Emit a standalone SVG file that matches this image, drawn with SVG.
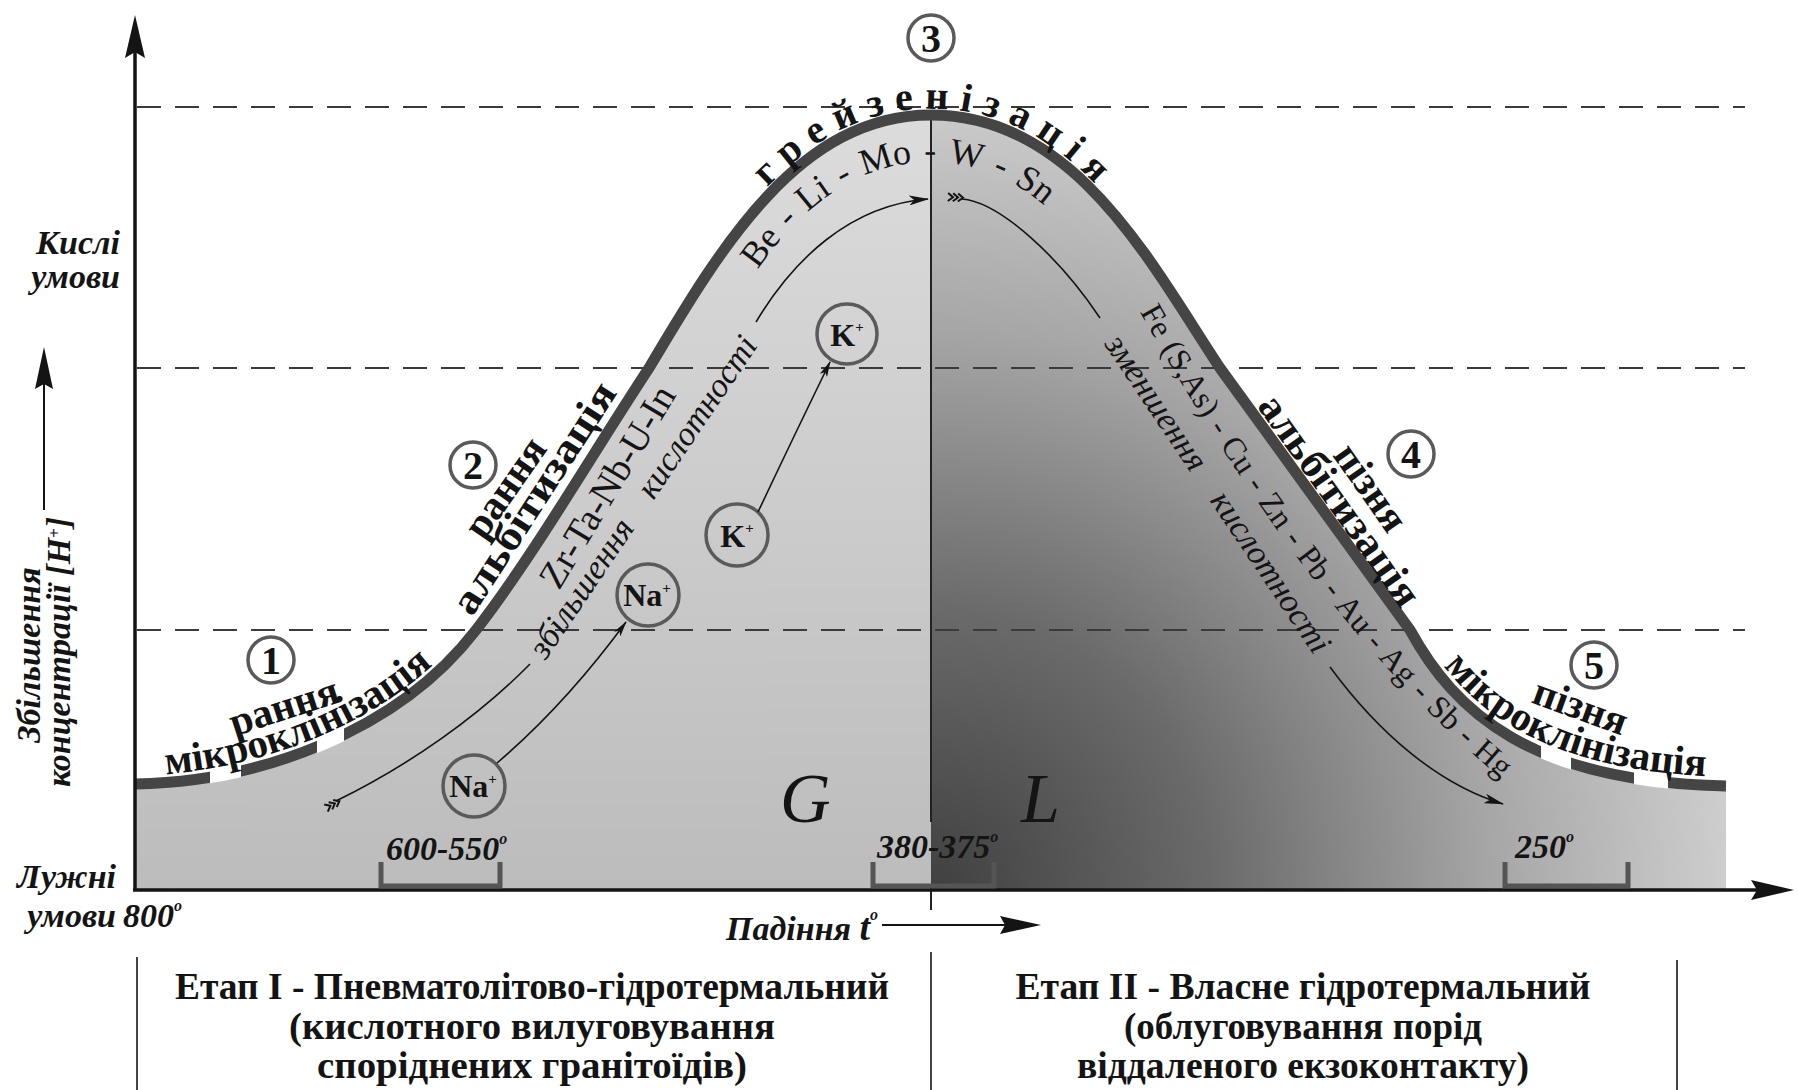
<svg xmlns="http://www.w3.org/2000/svg" width="1798" height="1090" viewBox="0 0 1798 1090">
<style>
text{font-family:"Liberation Serif","Times New Roman",serif;fill:#141414}
.b{font-weight:bold}
.i{font-style:italic}
.lab{font-weight:bold;font-size:41px}
.ax{font-weight:bold;font-style:italic;font-size:34px}
.num{font-weight:bold;font-size:40px;text-anchor:middle}
.ion{font-weight:bold;font-size:32px;text-anchor:middle}
.circ{fill:none;stroke:#5a5a5a;stroke-width:3.5}
.dash{stroke:#3a3a3a;stroke-width:2.2;stroke-dasharray:24 14;fill:none}
.thin{fill:none;stroke:#141414;stroke-width:1.6}
.brk{fill:none;stroke:#555;stroke-width:5}
.tbl{font-weight:bold;font-size:38px;text-anchor:middle}
.axis{stroke:#141414;stroke-width:3.5;fill:none}
</style>
<defs>
<path id="curve" d="M 135,784 C 255,782 396,734 476,630 C 534,555 591,456 649,368 C 722,245 800,115 931,115 C 1075,115 1150,262 1220,368 C 1283,455 1347,543 1410,630 C 1455,712 1530,782 1726,786"/>
<path id="area" d="M 135,784 C 255,782 396,734 476,630 C 534,555 591,456 649,368 C 722,245 800,115 931,115 C 1075,115 1150,262 1220,368 C 1283,455 1347,543 1410,630 C 1455,712 1530,782 1726,786 L 1726,890 L 135,890 Z"/>
<linearGradient id="gl" gradientUnits="userSpaceOnUse" x1="0" y1="115" x2="0" y2="890">
<stop offset="0" stop-color="#dcdcdc"/><stop offset="1" stop-color="#bcbcbc"/>
</linearGradient>
<radialGradient id="gr" gradientUnits="userSpaceOnUse" cx="931" cy="890" r="800">
<stop offset="0" stop-color="#404040"/><stop offset="0.35" stop-color="#6a6a6a"/><stop offset="0.7" stop-color="#a6a6a6"/><stop offset="1" stop-color="#cecece"/>
</radialGradient>
<clipPath id="cl"><rect x="0" y="0" width="931" height="1090"/></clipPath>
<clipPath id="cr"><rect x="931" y="0" width="900" height="1090"/></clipPath>
<clipPath id="gaps">
<rect x="210" y="730" width="31" height="80"/><rect x="317" y="700" width="27" height="90"/>
<rect x="1541" y="720" width="30" height="80"/><rect x="1634" y="740" width="34" height="70"/>
</clipPath>
<path id="pMikL" d="M 132,776 C 252,774 393,726 473,622"/>
<path id="pMikR" d="M 1414,621 C 1459,703 1534,773 1730,777"/>
<path id="pTop" d="M 646,362 C 719,239 797,109 928,109 L 934,109 C 1078,109 1153,256 1223,362"/>
<path id="pBe" d="M 752,278 C 800,205 860,162 931,162 C 990,162 1030,190 1062,222"/>
<path id="pFe" d="M 1140,312 C 1200,420 1290,560 1380,660 C 1420,705 1460,745 1515,790"/>
<marker id="ah" viewBox="0 0 20 10" refX="19" refY="5" markerWidth="20" markerHeight="10" markerUnits="userSpaceOnUse" orient="auto"><path d="M0,0 L20,5 L0,10 L5,5 Z" fill="#141414"/></marker>
<marker id="ahs" viewBox="0 0 16 8" refX="15" refY="4" markerWidth="16" markerHeight="8" markerUnits="userSpaceOnUse" orient="auto"><path d="M0,0 L16,4 L0,8 L4,4 Z" fill="#141414"/></marker>
<g id="fl"><path d="M0,-4 L5,0 L0,4 M5,-4 L10,0 L5,4 M10,-4 L15,0 L10,4" fill="none" stroke="#141414" stroke-width="2"/></g>
</defs>

<g id="background">
<rect width="1798" height="1090" fill="#fff"/>
<use href="#area" fill="url(#gl)" clip-path="url(#cl)"/>
<use href="#area" fill="url(#gr)" clip-path="url(#cr)"/>
</g>

<g id="grid">
<line class="dash" x1="137" y1="107" x2="1745" y2="107"/>
<line class="dash" x1="137" y1="368" x2="1745" y2="368"/>
<line class="dash" x1="137" y1="630" x2="1745" y2="630"/>
<line x1="931" y1="115" x2="931" y2="822" stroke="#222" stroke-width="2"/>
<line x1="931" y1="888" x2="931" y2="910" stroke="#222" stroke-width="2"/>
</g>

<g id="bell-curve">
<use href="#curve" fill="none" stroke="#454545" stroke-width="11"/>
<use href="#curve" fill="none" stroke="#fff" stroke-width="12" clip-path="url(#gaps)"/>
</g>

<g id="axes">
<line class="axis" x1="135" y1="890" x2="135" y2="50"/>
<polygon points="135,15 125,58 135,52 145,58" fill="#141414"/>
<line class="axis" x1="133" y1="890" x2="1760" y2="890"/>
<polygon points="1794,890 1751,880 1757,890 1751,900" fill="#141414"/>
<line x1="44" y1="510" x2="44" y2="380" stroke="#141414" stroke-width="2"/>
<polygon points="44,347 35,389 44,384 53,389" fill="#141414"/>
<line x1="882" y1="925" x2="1010" y2="925" stroke="#141414" stroke-width="2"/>
<polygon points="1041,925 1000,916 1005,925 1000,934" fill="#141414"/>
</g>

<g id="brackets">
<path class="brk" d="M 381,862 V 886 H 500 V 862"/>
<path class="brk" d="M 873,862 V 886 H 994 V 862"/>
<path class="brk" d="M 1505,862 V 886 H 1628 V 862"/>
</g>

<g id="table">
<line x1="137" y1="957" x2="137" y2="1090" stroke="#141414" stroke-width="1.6"/>
<line x1="931" y1="952" x2="931" y2="1090" stroke="#141414" stroke-width="1.6"/>
<line x1="1677" y1="960" x2="1677" y2="1090" stroke="#141414" stroke-width="1.6"/>
</g>

<g id="stage-1"><circle class="circ" cx="271" cy="660" r="23"/><text class="num" x="271" y="674">1</text></g>
<g id="stage-2"><circle class="circ" cx="473" cy="465" r="23"/><text class="num" x="473" y="479">2</text></g>
<g id="stage-3"><circle class="circ" cx="931" cy="38" r="23"/><text class="num" x="931" y="52">3</text></g>
<g id="stage-4"><circle class="circ" cx="1411" cy="454" r="23"/><text class="num" x="1411" y="468">4</text></g>
<g id="stage-5"><circle class="circ" cx="1594" cy="665" r="23"/><text class="num" x="1594" y="679">5</text></g>

<g id="ion-na1"><circle class="circ" cx="474" cy="786" r="31"/><text class="ion" x="473" y="797">Na<tspan font-size="15" dy="-13">+</tspan></text></g>
<g id="ion-na2"><circle class="circ" cx="648" cy="595" r="31"/><text class="ion" x="647" y="606">Na<tspan font-size="15" dy="-13">+</tspan></text></g>
<g id="ion-k1"><circle class="circ" cx="737" cy="535" r="31"/><text class="ion" font-size="34" x="737" y="547">K<tspan font-size="15" dy="-14">+</tspan></text></g>
<g id="ion-k2"><circle class="circ" cx="847" cy="334" r="30"/><text class="ion" font-size="34" x="847" y="346">K<tspan font-size="15" dy="-14">+</tspan></text></g>

<g id="connectors">
<path class="thin" d="M 497,763 Q 565,705 626,622" marker-end="url(#ahs)"/>
<path class="thin" d="M 758,512 Q 792,440 830,362" marker-end="url(#ahs)"/>
<path class="thin" d="M 336,801 C 410,765 480,715 530,664"/>
<path class="thin" d="M 756,322 C 793,260 850,205 928,199" marker-end="url(#ah)"/>
<use href="#fl" transform="translate(326,808) rotate(-27)"/>
<path class="thin" d="M 962,199 C 1000,202 1060,258 1100,318"/>
<path class="thin" d="M 1330,667 C 1380,735 1440,785 1503,804" marker-end="url(#ah)"/>
<use href="#fl" transform="translate(948,197) rotate(3)"/>
</g>

<g id="labels">
<text class="ax" x="120" y="254" text-anchor="end">Кислі</text>
<text class="ax" x="120" y="288" text-anchor="end">умови</text>
<text class="ax" x="116" y="888" text-anchor="end">Лужні</text>
<text class="ax" x="116" y="927" text-anchor="end">умови</text>
<text class="ax" x="123" y="927">800<tspan font-size="16" dy="-16">o</tspan></text>
<text class="ax" font-size="28" transform="translate(40,655) rotate(-90)" text-anchor="middle">Збільшення</text>
<text class="ax" font-size="28" transform="translate(70,652) rotate(-90)" text-anchor="middle">концентрації [H<tspan font-size="17" dy="-10">+</tspan><tspan dy="10">]</tspan></text>
<text class="ax" font-size="30" x="726" y="940">Падіння <tspan font-size="38">t</tspan><tspan font-size="16" dy="-20">o</tspan></text>

<text class="ax" font-size="32" x="386" y="860">600-550<tspan font-size="16" dy="-16">o</tspan></text>
<text class="ax" font-size="32" x="877" y="858">380-375<tspan font-size="16" dy="-16">o</tspan></text>
<text class="ax" font-size="32" x="1515" y="858">250<tspan font-size="16" dy="-16">o</tspan></text>

<text class="i" font-size="70" x="780" y="822">G</text>
<text class="i" font-size="70" x="1021" y="822">L</text>

<text class="lab" transform="translate(288,719) rotate(-18)" text-anchor="middle">рання</text>
<text class="lab"><textPath href="#pMikL" startOffset="34">мікроклінізація</textPath></text>
<text class="lab" transform="translate(516,495) rotate(-55)" text-anchor="middle">рання</text>
<text class="lab" transform="translate(545,505) rotate(-57)" text-anchor="middle" textLength="268" lengthAdjust="spacingAndGlyphs">альбітизація</text>
<text font-size="38" transform="translate(618,493) rotate(-59)" text-anchor="middle">Zr-Ta-Nb-U-In</text>
<text class="i" font-size="34" word-spacing="24" transform="translate(652,503) rotate(-56)" text-anchor="middle">збільшення кислотності</text>
<text class="b" font-size="40" letter-spacing="11" text-anchor="middle"><textPath href="#pTop" startOffset="405">грейзенізація</textPath></text>
<text font-size="36" word-spacing="3"><textPath href="#pBe" startOffset="10">Be - Li - Mo - W - Sn</textPath></text>
<text class="i" font-size="34" word-spacing="24" transform="translate(1209,500) rotate(56)" text-anchor="middle">зменшення кислотності</text>
<text font-size="32" word-spacing="2"><textPath href="#pFe">Fe (S,As) - Cu - Zn - Pb - Au - Ag - Sb - Hg</textPath></text>
<text class="lab" transform="translate(1360,495) rotate(55)" text-anchor="middle">пізня</text>
<text class="lab" transform="translate(1329,508) rotate(54.6)" text-anchor="middle" textLength="250" lengthAdjust="spacingAndGlyphs">альбітизація</text>
<text class="lab" transform="translate(1576,719) rotate(20)" text-anchor="middle">пізня</text>
<text class="lab"><textPath href="#pMikR" startOffset="54">мікроклінізація</textPath></text>

<text class="tbl" x="532" y="999" textLength="714" lengthAdjust="spacingAndGlyphs">Етап I - Пневматолітово-гідротермальний</text>
<text class="tbl" x="532" y="1039" textLength="486" lengthAdjust="spacingAndGlyphs">(кислотного вилуговування</text>
<text class="tbl" x="532" y="1078" textLength="430" lengthAdjust="spacingAndGlyphs">споріднених гранітоїдів)</text>
<text class="tbl" x="1303" y="999" textLength="575" lengthAdjust="spacingAndGlyphs">Етап II - Власне гідротермальний</text>
<text class="tbl" x="1303" y="1039" textLength="358" lengthAdjust="spacingAndGlyphs">(облуговування порід</text>
<text class="tbl" x="1303" y="1078" textLength="452" lengthAdjust="spacingAndGlyphs">віддаленого екзоконтакту)</text>
</g>
</svg>
